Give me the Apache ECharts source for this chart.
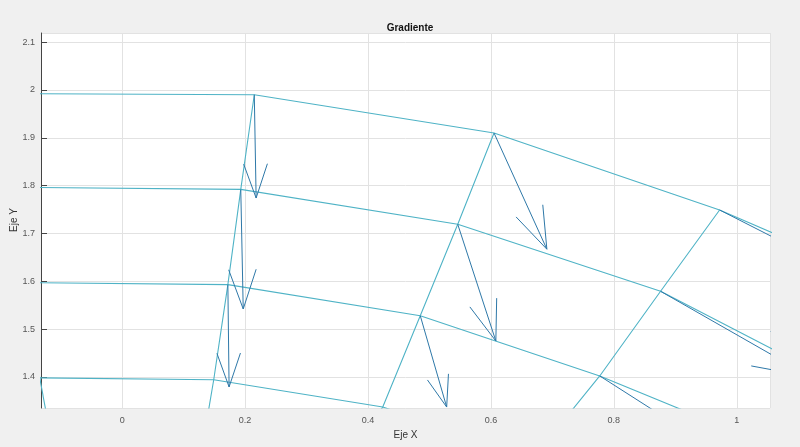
<!DOCTYPE html>
<html>
<head>
<meta charset="UTF-8">
<title>Gradiente</title>
<script src="https://cdn.jsdelivr.net/npm/echarts@6/dist/echarts.min.js"></script>
<style>
  * { margin: 0; padding: 0; }
  html, body { width: 800px; height: 447px; background: #f0f0f0; }
  #chart { width: 800px; height: 447px; }
</style>
</head>
<body>
<div id="chart"></div>
<script>
  // mesh rows (lines of constant radius)
  const meshRows = [
    [[-0.135, 1.992], [0.215, 1.990], [0.605, 1.910], [0.972, 1.749], [1.15, 1.65]],
    [[-0.135, 1.796], [0.193, 1.792], [0.546, 1.719], [0.876, 1.579], [1.10, 1.43]],
    [[-0.135, 1.597], [0.172, 1.593], [0.485, 1.528], [0.777, 1.402], [0.97, 1.30]],
    [[-0.135, 1.398], [0.149, 1.394], [0.424, 1.337], [0.70, 1.22]]
  ]
  // mesh columns (lines of constant angle)
  const meshCols = [
    [[-0.140, 1.44], [-0.120, 1.30]],
    [[0.215, 1.990], [0.193, 1.792], [0.172, 1.593], [0.149, 1.394], [0.13, 1.25]],
    [[0.605, 1.910], [0.546, 1.719], [0.485, 1.528], [0.424, 1.337], [0.38, 1.25]],
    [[0.972, 1.749], [0.876, 1.579], [0.777, 1.402], [0.70, 1.28]]
  ]
  // gradient arrows: [x0, y0, x1, y1]
  const arrows = [
    [0.215, 1.990, 0.218, 1.774],
    [0.193, 1.792, 0.197, 1.542],
    [0.172, 1.593, 0.174, 1.379],
    [0.605, 1.910, 0.691, 1.667],
    [0.546, 1.719, 0.608, 1.475],
    [0.485, 1.528, 0.528, 1.337],
    [0.972, 1.749, 1.20, 1.60],
    [0.876, 1.579, 1.12, 1.40],
    [0.777, 1.402, 0.95, 1.26]
  ]

  const kx = 615, ky = 478 // px per unit, for arrow head shape
  function arrowPts(a) {
    const dx = (a[2] - a[0]) * kx, dy = (a[3] - a[1]) * ky
    const bx = a[2] * kx - 0.33 * dx, by = a[3] * ky - 0.33 * dy
    const px = -dy * 0.115, py = dx * 0.115
    return [
      [a[0], a[1]], [a[2], a[3]], null,
      [(bx + px) / kx, (by + py) / ky], [a[2], a[3]], [(bx - px) / kx, (by - py) / ky], null
    ]
  }

  const series = []
  meshRows.concat(meshCols).forEach(d => series.push({
    type: 'line', data: d, symbol: 'none', silent: true,
    lineStyle: { color: '#4fb3c6', width: 1.1 }, z: 2
  }))
  arrows.forEach(a => series.push({
    type: 'line', data: arrowPts(a).map(p => p || ['-', '-']), symbol: 'none', silent: true,
    connectNulls: false, lineStyle: { color: '#2e78a8', width: 1 }, z: 3
  }))

  const chart = echarts.init(document.getElementById('chart'))
  chart.setOption({
    animation: false,
    backgroundColor: '#f0f0f0',
    title: {
      text: 'Gradiente', left: 405, top: 18, textAlign: 'center',
      textStyle: { fontSize: 10, fontWeight: 'bold', color: '#111', fontFamily: 'Liberation Sans' }
    },
    graphic: [{
      type: 'text', x: 14, y: 220, rotation: Math.PI / 2,
      style: { text: 'Eje Y', fontSize: 10, fill: '#333', fontFamily: 'Liberation Sans', align: 'center', verticalAlign: 'middle' }
    }],
    grid: { left: 41, right: 30, top: 33, bottom: 39, show: true, backgroundColor: '#fff', borderWidth: 0,
      containLabel: false, outerBoundsMode: 'none' },
    xAxis: {
      type: 'value', min: -0.132, max: 1.054, splitNumber: 6,
      name: 'Eje X', nameLocation: 'middle', nameGap: 17,
      nameTextStyle: { fontSize: 10, color: '#333', fontFamily: 'Liberation Sans' },
      axisLine: { show: false },
      axisTick: { show: false },
      axisLabel: { showMinLabel: false, showMaxLabel: false, fontSize: 9, color: '#555', margin: 8, fontFamily: 'Liberation Sans' },
      splitLine: { lineStyle: { color: '#e2e2e2' } }
    },
    yAxis: {
      type: 'value', min: 1.335, max: 2.119, splitNumber: 8,
      axisLine: { show: true, onZero: false, lineStyle: { color: '#444' } },
      axisTick: { show: true, inside: true, length: 6, lineStyle: { color: '#444' } },
      axisLabel: { showMinLabel: false, showMaxLabel: false, fontSize: 9, color: '#555', margin: 6, fontFamily: 'Liberation Sans',
        formatter: v => String(Math.round(v * 10) / 10) },
      splitLine: { lineStyle: { color: '#e2e2e2' } }
    },
    series: series
  })
</script>
</body>
</html>
